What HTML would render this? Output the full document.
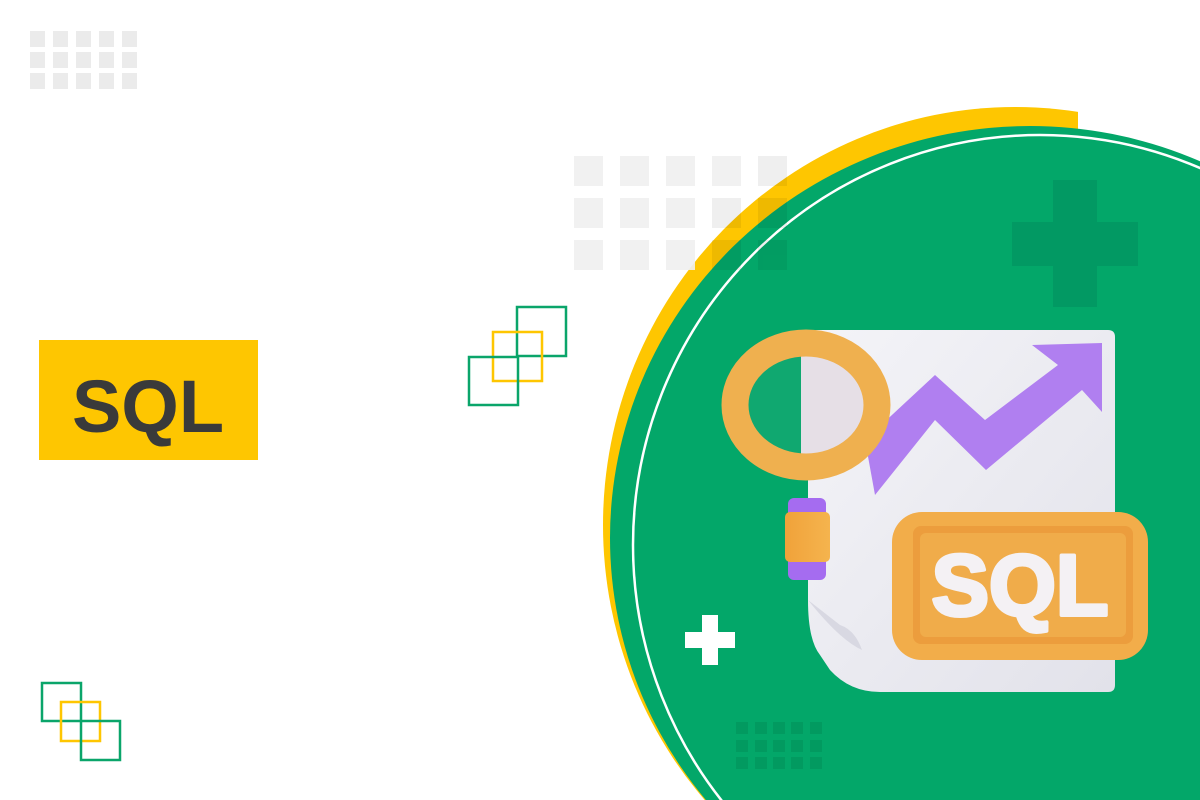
<!DOCTYPE html>
<html><head><meta charset="utf-8"><style>
html,body{margin:0;padding:0;background:#fff;width:1200px;height:800px;overflow:hidden}
svg{display:block}
</style></head><body>
<svg width="1200" height="800" viewBox="0 0 1200 800" xmlns="http://www.w3.org/2000/svg">
<defs>
<clipPath id="c"><rect x="0" y="0" width="1200" height="800"/></clipPath>
<clipPath id="cy"><rect x="0" y="0" width="1078" height="800"/></clipPath>
<linearGradient id="pg" x1="0" y1="0" x2="1" y2="1"><stop offset="0" stop-color="#f4f4f8"/><stop offset="1" stop-color="#e2e2ea"/></linearGradient>
<linearGradient id="og" x1="0" y1="0" x2="1" y2="0"><stop offset="0" stop-color="#f0a23a"/><stop offset="1" stop-color="#f5b44e"/></linearGradient>
</defs>
<g fill="#ebebeb">
<rect x="30" y="31" width="15" height="16"/><rect x="53" y="31" width="15" height="16"/><rect x="76" y="31" width="15" height="16"/><rect x="99" y="31" width="15" height="16"/><rect x="122" y="31" width="15" height="16"/>
<rect x="30" y="52" width="15" height="16"/><rect x="53" y="52" width="15" height="16"/><rect x="76" y="52" width="15" height="16"/><rect x="99" y="52" width="15" height="16"/><rect x="122" y="52" width="15" height="16"/>
<rect x="30" y="73" width="15" height="16"/><rect x="53" y="73" width="15" height="16"/><rect x="76" y="73" width="15" height="16"/><rect x="99" y="73" width="15" height="16"/><rect x="122" y="73" width="15" height="16"/>
</g>
<g clip-path="url(#c)">
<g clip-path="url(#cy)"><ellipse cx="1015" cy="525" rx="412" ry="418" fill="#fec601"/></g>
<ellipse cx="1030" cy="538" rx="420" ry="412" fill="#03a769"/>
<ellipse cx="1040" cy="545" rx="407" ry="410" fill="none" stroke="#fff" stroke-width="2.5"/>
</g>
<g fill="#f0f0f0" opacity="0.9">
<rect x="574" y="156" width="29" height="30"/><rect x="620" y="156" width="29" height="30"/><rect x="666" y="156" width="29" height="30"/><rect x="712" y="156" width="29" height="30"/>
<rect x="574" y="198" width="29" height="30"/><rect x="620" y="198" width="29" height="30"/><rect x="666" y="198" width="29" height="30"/>
<rect x="574" y="240" width="29" height="30"/><rect x="620" y="240" width="29" height="30"/><rect x="666" y="240" width="29" height="30"/>
</g>
<g fill="#000" opacity="0.06">
<rect x="758" y="156" width="29" height="30"/><rect x="712" y="198" width="29" height="30"/><rect x="758" y="198" width="29" height="30"/>
<rect x="712" y="240" width="29" height="30"/><rect x="758" y="240" width="29" height="30"/>
</g>
<g fill="#029963">
<rect x="1053" y="180" width="44" height="127"/><rect x="1012" y="222" width="126" height="44"/>
</g>
<g fill="#fff"><rect x="702" y="615" width="16" height="50"/><rect x="685" y="632" width="50" height="16"/></g>
<g fill="#029a60">
<rect x="736" y="722" width="12" height="12"/><rect x="755" y="722" width="12" height="12"/><rect x="773" y="722" width="12" height="12"/><rect x="791" y="722" width="12" height="12"/><rect x="810" y="722" width="12" height="12"/>
<rect x="736" y="740" width="12" height="12"/><rect x="755" y="740" width="12" height="12"/><rect x="773" y="740" width="12" height="12"/><rect x="791" y="740" width="12" height="12"/><rect x="810" y="740" width="12" height="12"/>
<rect x="736" y="757" width="12" height="12"/><rect x="755" y="757" width="12" height="12"/><rect x="773" y="757" width="12" height="12"/><rect x="791" y="757" width="12" height="12"/><rect x="810" y="757" width="12" height="12"/>
</g>
<rect x="39" y="340" width="219" height="120" fill="#fec601"/>
<text x="148" y="432" text-anchor="middle" font-family="Liberation Sans, sans-serif" font-weight="bold" font-size="74" fill="#3a3a3a">SQL</text>
<g fill="none" stroke-width="2.5">
<rect x="517" y="307" width="49" height="49" stroke="#0aa56a"/>
<rect x="493" y="332" width="49" height="49" stroke="#fec601"/>
<rect x="469" y="357" width="49" height="48" stroke="#0aa56a"/>
<rect x="42" y="683" width="39" height="38" stroke="#0aa56a"/>
<rect x="61" y="702" width="39" height="39" stroke="#fec601"/>
<rect x="81" y="721" width="39" height="39" stroke="#0aa56a"/>
</g>
<path d="M818 330 H1108 Q1115 330 1115 337 V685 Q1115 692 1108 692 H880 Q850 692 830 670 L820 655 Q808 640 808 600 V340 Q808 330 818 330 Z" fill="url(#pg)"/>
<path d="M808 600 Q840 640 862 650 Q855 630 840 625 Z" fill="#d8d8e2"/>
<path d="M865 440 L935 375 L985 420 L1058 365 L1032 345 L1102 343 L1102 412 L1082 390 L986 470 L935 420 L875 495 Z" fill="#b07ff0"/>
<clipPath id="lens"><ellipse cx="806" cy="405" rx="58" ry="50"/></clipPath>
<g clip-path="url(#lens)"><rect x="740" y="350" width="61" height="110" fill="#10a870"/><rect x="801" y="350" width="70" height="110" fill="#e6dfe6"/></g>
<ellipse cx="806" cy="405" rx="71" ry="62" fill="none" stroke="#efb04f" stroke-width="27"/>
<rect x="788" y="498" width="38" height="82" rx="6" fill="#a56cf0"/>
<rect x="785" y="512" width="45" height="50" rx="5" fill="url(#og)"/>
<rect x="892" y="512" width="256" height="148" rx="30" fill="#f2ad4a"/>
<rect x="913" y="526" width="220" height="118" rx="8" fill="#ec9d3d"/>
<rect x="920" y="533" width="206" height="104" rx="6" fill="#f0ac4a"/>
<text x="1020" y="615" text-anchor="middle" font-family="Liberation Sans, sans-serif" font-weight="bold" font-size="86" fill="#f4f1f4" stroke="#f4f1f4" stroke-width="4" stroke-linejoin="round">SQL</text>
</svg>
</body></html>
